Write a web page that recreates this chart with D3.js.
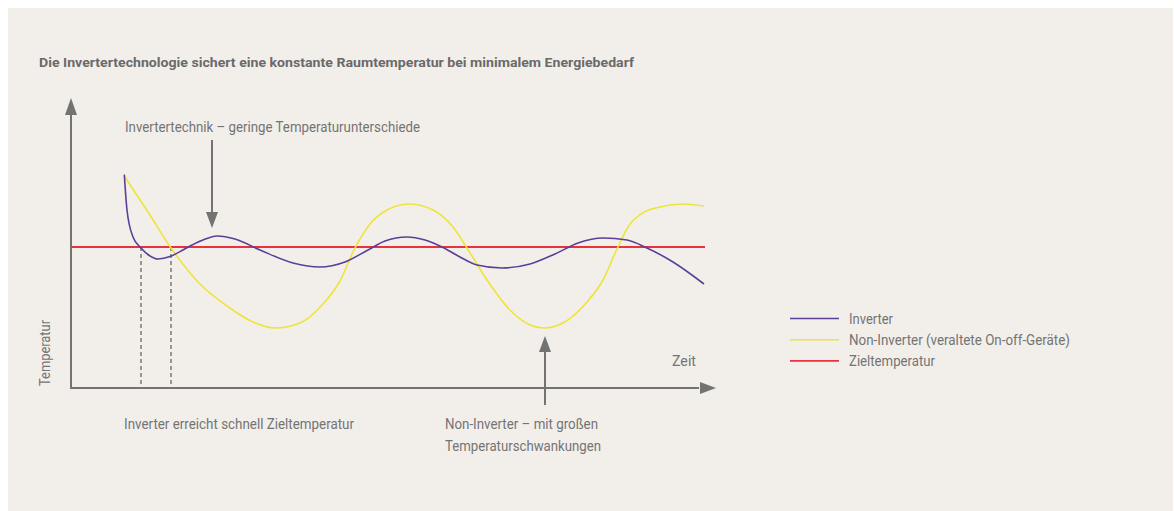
<!DOCTYPE html>
<html>
<head>
<meta charset="utf-8">
<script src="https://cdn.jsdelivr.net/npm/d3@7"></script>
<style>
  body { margin: 0; background: #fff; }
  text { font-family: "Liberation Sans Narrow", "Roboto", "Liberation Sans", sans-serif; fill: #747474; }
</style>
</head>
<body>
<div id="chart"></div>
<script>
// Data (time in arbitrary units, temperature in °C)
const invTime = [5.33, 5.6, 6.2, 7.0, 7.9, 8.7, 9.9, 10.9, 11.9, 13.2, 14.6, 16.4, 18.9, 22.2, 24.9, 27.4, 29.7, 31.4, 33.6, 35.4, 37.3, 38.9, 40.6, 43.1, 45.9, 48.4, 50.7, 53.2, 55.6, 57.6, 60.2, 63.3];
const invTemp = [23.62, 21.85, 20.5, 19.95, 19.55, 19.40, 19.52, 19.77, 20.05, 20.35, 20.55, 20.40, 19.85, 19.20, 19.00, 19.25, 19.85, 20.30, 20.50, 20.35, 19.95, 19.50, 19.10, 18.95, 19.15, 19.65, 20.20, 20.45, 20.35, 19.95, 19.25, 18.15];

const nonTime = [5.33, 7.7, 10.0, 12.9, 15.6, 18.2, 20.4, 22.9, 25.2, 26.9, 28.3, 29.9, 31.6, 33.8, 36.2, 38.2, 39.6, 41.6, 43.9, 45.9, 47.3, 49.2, 51.6, 53.2, 54.6, 55.9, 57.0, 58.9, 61.2, 63.3];
const nonTemp = [23.55, 21.75, 19.95, 18.15, 17.05, 16.25, 15.95, 16.20, 17.15, 18.30, 19.85, 21.15, 21.85, 22.15, 21.85, 21.00, 19.95, 18.35, 16.85, 16.10, 15.95, 16.20, 17.25, 18.35, 19.90, 21.15, 21.65, 22.00, 22.15, 22.05];

const targetTemp = 20;
const dropTimes = [7.0, 10.0];

const legendLabels = ["Inverter", "Non-Inverter (veraltete On-off-Geräte)", "Zieltemperatur"];
const legendColors = ["#5b3f98", "#ede43a", "#e8323c"];

const titleText = "Die Invertertechnologie sichert eine konstante Raumtemperatur bei minimalem Energiebedarf";
const noteTop = "Invertertechnik – geringe Temperaturunterschiede";
const noteLeft = "Inverter erreicht schnell Zieltemperatur";
const noteRight = ["Non-Inverter – mit großen", "Temperaturschwankungen"];

const W = 1174, H = 511;
const grey = "#737373";

const svg = d3.select("#chart").append("svg")
    .attr("width", W).attr("height", H);

svg.append("rect")
    .attr("x", 8).attr("y", 8)
    .attr("width", W - 9).attr("height", H - 8)
    .attr("fill", "#f2efeb");

const x = d3.scaleLinear().domain([0, 63.4]).range([71, 705]);
const y = d3.scaleLinear().domain([12.95, 27.35]).range([388, 100]);

// squeeze text to a given width (the original uses a condensed face)
function fit(sel, w) {
    sel.attr("textLength", w).attr("lengthAdjust", "spacingAndGlyphs");
    return sel;
}

function head(cx, cy, dir, len, hw) {
    // dir: "up", "down", "right"; (cx, cy) is the tip
    let pts;
    if (dir === "up") pts = [[cx, cy], [cx - hw, cy + len], [cx + hw, cy + len]];
    else if (dir === "down") pts = [[cx, cy], [cx - hw, cy - len], [cx + hw, cy - len]];
    else pts = [[cx, cy], [cx - len, cy - hw], [cx - len, cy + hw]];
    svg.append("polygon").attr("points", pts.map(p => p.join(",")).join(" ")).attr("fill", grey);
}

// title
fit(svg.append("text")
    .attr("x", 39).attr("y", 67)
    .attr("font-size", 13).attr("font-weight", "bold")
    .style("fill", "#6a6a6a")
    .text(titleText), 595);

// axes
const x0 = x(0), yBase = y(12.95);
svg.append("line")
    .attr("x1", x0).attr("x2", x0)
    .attr("y1", yBase).attr("y2", y(27.2))
    .attr("stroke", grey).attr("stroke-width", 2);
head(x0, 98, "up", 17, 6);

svg.append("line")
    .attr("x1", x0 - 1).attr("x2", x(62.8))
    .attr("y1", yBase).attr("y2", yBase)
    .attr("stroke", grey).attr("stroke-width", 2);
head(716, yBase, "right", 16, 6);

svg.append("text")
    .attr("transform", `translate(50,${y(13.05)}) rotate(-90)`)
    .attr("font-size", 14)
    .call(s => fit(s, 66))
    .text("Temperatur");

fit(svg.append("text")
    .attr("x", 672).attr("y", 366)
    .attr("font-size", 14)
    .text("Zeit"), 24);

// dashed drop lines
svg.selectAll(".drop")
    .data(dropTimes)
    .enter().append("line")
    .attr("x1", d => x(d)).attr("x2", d => x(d))
    .attr("y1", y(targetTemp)).attr("y2", yBase)
    .attr("stroke", "#7a7a7a").attr("stroke-width", 1.5)
    .attr("stroke-dasharray", "4,3");

// target line
svg.append("line")
    .attr("x1", x0).attr("x2", x(63.4))
    .attr("y1", y(targetTemp)).attr("y2", y(targetTemp))
    .attr("stroke", legendColors[2]).attr("stroke-width", 2);

const line = d3.line()
    .x(d => x(d[0]))
    .y(d => y(d[1]))
    .curve(d3.curveMonotoneX);

svg.append("path")
    .datum(nonTime.map((t, i) => [t, nonTemp[i]]))
    .attr("fill", "none")
    .attr("stroke", legendColors[1])
    .attr("stroke-width", 1.6)
    .attr("d", line);

svg.append("path")
    .datum(invTime.map((t, i) => [t, invTemp[i]]))
    .attr("fill", "none")
    .attr("stroke", legendColors[0])
    .attr("stroke-width", 1.6)
    .attr("d", line);

// annotation arrows
const ax1 = x(14.1);
svg.append("line")
    .attr("x1", ax1).attr("x2", ax1)
    .attr("y1", y(25.35)).attr("y2", y(21.6))
    .attr("stroke", grey).attr("stroke-width", 2);
head(ax1, y(20.95), "down", 16, 6);

const ax2 = x(47.4);
svg.append("line")
    .attr("x1", ax2).attr("x2", ax2)
    .attr("y1", y(12.1)).attr("y2", y(14.8))
    .attr("stroke", grey).attr("stroke-width", 2);
head(ax2, y(15.55), "up", 16, 6);

fit(svg.append("text")
    .attr("x", 125).attr("y", 132)
    .attr("font-size", 14)
    .text(noteTop), 295);

fit(svg.append("text")
    .attr("x", 124).attr("y", 429)
    .attr("font-size", 14)
    .text(noteLeft), 230);

svg.selectAll(".noteR")
    .data(noteRight)
    .enter().append("text")
    .attr("x", 445)
    .attr("y", (d, i) => 429 + i * 22)
    .attr("font-size", 14)
    .attr("textLength", (d, i) => [153, 156][i])
    .attr("lengthAdjust", "spacingAndGlyphs")
    .text(d => d);

// legend
const leg = svg.selectAll(".leg")
    .data(legendLabels)
    .enter().append("g")
    .attr("transform", (d, i) => `translate(790,${318.5 + i * 21.2})`);

leg.append("line")
    .attr("x1", 0).attr("x2", 49)
    .attr("stroke", (d, i) => legendColors[i])
    .attr("stroke-width", 1.6);

leg.append("text")
    .attr("x", 59).attr("y", 5)
    .attr("font-size", 14)
    .attr("textLength", (d, i) => [44, 221, 86][i])
    .attr("lengthAdjust", "spacingAndGlyphs")
    .text(d => d);
</script>
</body>
</html>
